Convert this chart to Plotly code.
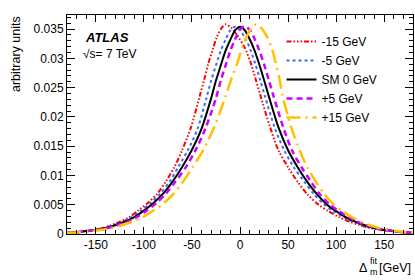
import plotly.graph_objects as go

# ---- data ----
sm_x = [-180,-170,-160,-150,-140,-130,-120,-110,-100,-90,-80,-70,-60,-50,-40,-30,-25,-20,-15,-10,-5,0,5,10,15,20,25,30,40,50,60,70,80,90,100,110,120,130,140,150,160,170,180]
sm_y = [0.0002,0.0003,0.0005,0.0007,0.0010,0.0015,0.0021,0.0029,0.0040,0.0053,0.0069,0.0090,0.0115,0.0144,0.0180,0.0232,0.0262,0.0288,0.0313,0.0332,0.0348,0.0354,0.0348,0.0333,0.0314,0.0290,0.0263,0.0235,0.0182,0.0143,0.0114,0.0089,0.0068,0.0051,0.0039,0.0029,0.0021,0.0015,0.0010,0.0007,0.0005,0.0003,0.0002]

m15_x = [-182,-172,-163,-153,-144,-134,-125,-115,-106,-96,-86,-77,-68,-60,-51,-42,-37,-33,-28,-24,-19,-15,-9,-2,5,11,16,21,31,40,50,60,70,81,92,103,114,125,136,147,157,168,180]
m15_y = [0.0002,0.0003,0.0005,0.0007,0.0010,0.0015,0.0021,0.0029,0.0040,0.0053,0.0069,0.0090,0.0115,0.0144,0.0182,0.0235,0.0265,0.0291,0.0317,0.0337,0.0352,0.0358,0.0352,0.0337,0.0318,0.0293,0.0266,0.0238,0.0184,0.0143,0.0114,0.0089,0.0068,0.0051,0.0039,0.0029,0.0021,0.0015,0.0010,0.0007,0.0005,0.0003,0.0002]

m5_x = [-181,-171,-161,-152,-142,-132,-122,-113,-103,-93,-83,-73,-64,-54,-44,-35,-30,-25,-20,-15,-10,-5,0,6,11,16,21,26,36,46,56,67,77,87,97,108,118,128,138,149,159,169,180]
m5_y = sm_y

p5_x = [-180,-169,-159,-148,-138,-128,-117,-107,-97,-87,-77,-67,-56,-46,-36,-25,-20,-15,-10,-5,0,5,10,15,20,25,30,35,45,54,64,74,83,93,103,113,122,132,142,151,161,171,181]
p5_y = [0.0002,0.0003,0.0005,0.0007,0.0010,0.0015,0.0021,0.0029,0.0040,0.0053,0.0069,0.0090,0.0115,0.0144,0.0180,0.0232,0.0262,0.0288,0.0313,0.0333,0.0349,0.0355,0.0349,0.0334,0.0314,0.0290,0.0263,0.0235,0.0182,0.0143,0.0114,0.0089,0.0068,0.0051,0.0039,0.0029,0.0021,0.0015,0.0010,0.0007,0.0005,0.0003,0.0002]

p15_x = [-180,-167,-156,-145,-134,-123,-112,-101,-90,-79,-69,-59,-49,-38,-27,-15,-9,-3,2,7,12,17,22,28,33,37,41,44,53,62,70,79,88,97,107,116,126,135,145,154,163,173,182]
p15_y = m15_y

series_names = ["-15 GeV", "-5 GeV", "SM 0 GeV", "+5 GeV", "+15 GeV"]

x_tickvals = [-150, -100, -50, 0, 50, 100, 150]
x_ticktext = ["-150", "-100", "-50", "0", "50", "100", "150"]
y_tickvals = [0, 0.005, 0.01, 0.015, 0.02, 0.025, 0.03, 0.035]
y_ticktext = ["0", "0.005", "0.01", "0.015", "0.02", "0.025", "0.03", "0.035"]

FONT = "Liberation Sans"

fig = go.Figure()
styles = [
    (m15_x, m15_y, "#ff0000", "5px,2px,1.5px,2px,1.5px,2px,1.5px,2px", 2),
    (m5_x, m5_y, "#3d6bff", "dot", 2),
    (sm_x, sm_y, "#000000", "solid", 2),
    (p5_x, p5_y, "#d000ff", "6px,4px", 2.5),
    (p15_x, p15_y, "#ffc200", "14px,5px,2px,5px", 2.5),
]
for name, (xs, ys, col, dash, w) in zip(series_names, styles):
    fig.add_trace(go.Scatter(x=xs, y=ys, mode="lines", name=name,
                             line=dict(color=col, dash=dash, width=w, shape="spline", smoothing=0.8)))

xr = [-180, 180]
yr = [0, 0.0374]
common_x = dict(range=xr, ticks="inside", ticklen=7, tickcolor="black", tickwidth=1,
                minor=dict(ticks="inside", ticklen=4, dtick=10, tick0=0, tickcolor="black"),
                showgrid=False, zeroline=False, showline=True, linecolor="black", linewidth=1)
common_y = dict(range=yr, ticks="inside", ticklen=8, tickcolor="black", tickwidth=1,
                minor=dict(ticks="inside", ticklen=4, dtick=0.001, tick0=0, tickcolor="black"),
                showgrid=False, zeroline=False, showline=True, linecolor="black", linewidth=1)

fig.update_layout(
    width=415, height=280,
    margin=dict(l=67, r=2, t=15, b=46),
    paper_bgcolor="white", plot_bgcolor="white",
    font=dict(family=FONT, size=12, color="black"),
    xaxis=dict(**common_x, tickvals=x_tickvals, ticktext=x_ticktext, tickfont=dict(size=12)),
    yaxis=dict(**common_y, tickvals=y_tickvals, ticktext=y_ticktext, tickfont=dict(size=12)),
    xaxis2=dict(**common_x, overlaying="x", side="top", anchor="y", tickvals=x_tickvals, showticklabels=False),
    yaxis2=dict(**common_y, overlaying="y", side="right", anchor="x", tickvals=y_tickvals, showticklabels=False),
    legend=dict(x=0.62, y=0.945, xanchor="left", yanchor="top", bgcolor="rgba(0,0,0,0)",
                font=dict(size=12), tracegroupgap=0, itemwidth=30),
    showlegend=True,
)
# invisible trace so the mirrored (top/right) axes render
fig.add_trace(go.Scatter(x=[None], y=[None], xaxis="x2", yaxis="y2", showlegend=False, hoverinfo="skip"))

def px2paper(px, py):
    return (px - 67) / 346, (234 - py) / 219

ann = []
ax, ay = px2paper(83, 37)
ann.append(dict(x=ax, y=ay, text="<b><i>ATLAS</i></b>", xanchor="left", yanchor="middle", font=dict(size=13)))
ax, ay = px2paper(81, 54)
ann.append(dict(x=ax, y=ay, text="√s= 7 TeV", xanchor="left", yanchor="middle", font=dict(size=12)))
ax, ay = px2paper(16, 14)
ann.append(dict(x=ax, y=ay, text="arbitrary units", textangle=-90, xanchor="center", yanchor="top", font=dict(size=12.5)))
ax, ay = px2paper(369, 268)
ann.append(dict(x=ax, y=ay, text="Δ", xanchor="right", yanchor="middle", font=dict(size=12.5)))
ax, ay = px2paper(368, 261)
ann.append(dict(x=ax, y=ay, text="fit", xanchor="left", yanchor="middle", font=dict(size=9)))
ax, ay = px2paper(368, 271.5)
ann.append(dict(x=ax, y=ay, text="m", xanchor="left", yanchor="middle", font=dict(size=9)))
ax, ay = px2paper(413, 268)
ann.append(dict(x=ax, y=ay, text="[GeV]", xanchor="right", yanchor="middle", font=dict(size=12.5)))
for a in ann:
    a.update(xref="paper", yref="paper", showarrow=False)
fig.update_layout(annotations=ann)

fig.write_html("out.html", config={"displayModeBar": False},
               post_script="document.body.style.margin='0';document.body.style.overflow='hidden';")
